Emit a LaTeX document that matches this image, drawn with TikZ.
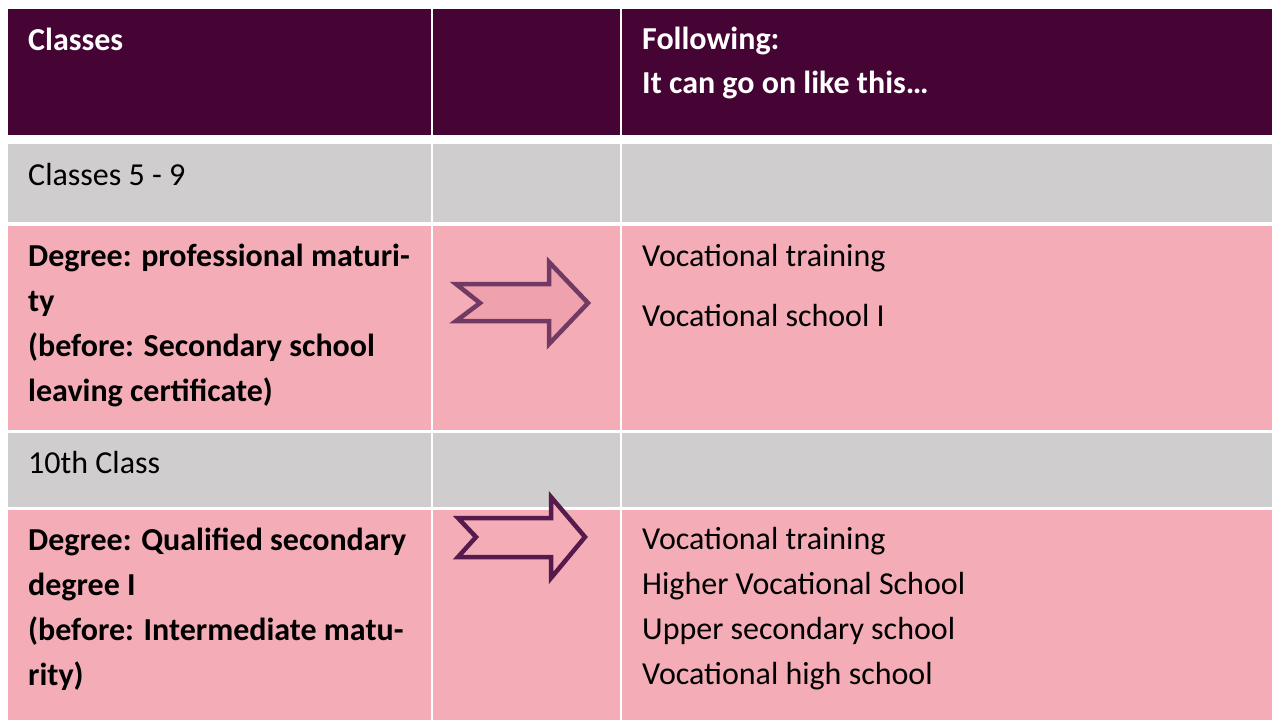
\documentclass[tikz,border=0pt]{standalone}
\usepackage{fontspec}
\setmainfont{Carlito}
\usetikzlibrary{positioning}

\definecolor{headpurple}{HTML}{450433}
\definecolor{rowgray}{HTML}{CFCDCE}
\definecolor{rowpink}{HTML}{F4ACB7}
\definecolor{arrowfill}{HTML}{F0A1AE}
\definecolor{arrowlight}{HTML}{713A62}
\definecolor{arrowdark}{HTML}{561A4C}

\begin{document}
\begin{tikzpicture}[x=1pt,y=-1pt,
  cellstyle/.style={rectangle,anchor=north west,inner sep=0pt,outer sep=0pt},
  headcell/.style={cellstyle,fill=headpurple},
  graycell/.style={cellstyle,fill=rowgray},
  pinkcell/.style={cellstyle,fill=rowpink},
  celltext/.style={anchor=base west,inner sep=0pt,align=left,font=\fontsize{32}{45}\selectfont},
  boldtext/.style={celltext,font=\fontsize{32}{45}\selectfont\bfseries},
  headtext/.style={celltext,text=white,font=\fontsize{32}{44}\selectfont\bfseries},
  blockarrow/.style={line width=4.5pt,line join=miter}
]
\useasboundingbox (0,0) rectangle (1272,720);

% header row
\node [headcell,minimum width=423pt,minimum height=126pt] (head a) at (8,9) { } ;
\node [headcell,minimum width=187pt,minimum height=126pt] (head b) at (433,9) { } ;
\node [headcell,minimum width=650pt,minimum height=126pt] (head c) at (622,9) { } ;

% classes 5 - 9
\node [graycell,minimum width=423pt,minimum height=78pt] (lower a) at (8,144) { } ;
\node [graycell,minimum width=187pt,minimum height=78pt] (lower b) at (433,144) { } ;
\node [graycell,minimum width=650pt,minimum height=78pt] (lower c) at (622,144) { } ;

\node [pinkcell,minimum width=423pt,minimum height=204pt] (maturity a) at (8,226) { } ;
\node [pinkcell,minimum width=187pt,minimum height=204pt] (maturity b) at (433,226) { } ;
\node [pinkcell,minimum width=650pt,minimum height=204pt] (maturity c) at (622,226) { } ;

% 10th class
\node [graycell,minimum width=423pt,minimum height=74pt] (tenth a) at (8,433) { } ;
\node [graycell,minimum width=187pt,minimum height=74pt] (tenth b) at (433,433) { } ;
\node [graycell,minimum width=650pt,minimum height=74pt] (tenth c) at (622,433) { } ;

\node [pinkcell,minimum width=423pt,minimum height=210pt] (secondary a) at (8,510) { } ;
\node [pinkcell,minimum width=187pt,minimum height=210pt] (secondary b) at (433,510) { } ;
\node [pinkcell,minimum width=650pt,minimum height=210pt] (secondary c) at (622,510) { } ;

% texts (base anchor sits on the last line)
\node [headtext] (classes label) at (28,50) {Classes} ;
\node [headtext] (following label) at (642,93) {Following:\\It can go on like this…} ;

\node [celltext] (lower label) at (28,185) {Classes 5 - 9} ;
\node [boldtext] (maturity label) at (28,401)
  {Degree: professional maturi-\\ty\\(before: Secondary school\\leaving certificate)} ;
\node [celltext] (maturity next) at (642,326) {Vocational training\\[15pt]Vocational school I} ;

\node [celltext] (tenth label) at (28,473) {10th Class} ;
\node [boldtext] (secondary label) at (28,685)
  {Degree: Qualified secondary\\degree I\\(before: Intermediate matu-\\rity)} ;
\node [celltext] (secondary next) at (642,684)
  {Vocational training\\Higher Vocational School\\Upper secondary school\\Vocational high school} ;

% arrows
\draw [blockarrow,draw=arrowlight,fill=arrowfill] (456,284) -- (480,303) -- (456,321) -- (549,321)
  -- (549,344) -- (588,303) -- (549,262) -- (549,284) -- cycle ;
\draw [blockarrow,draw=arrowdark,fill=rowpink] (458,518) -- (476,537) -- (458,557) -- (551,557)
  -- (551,578) -- (585,537) -- (551,497) -- (551,518) -- cycle ;

\end{tikzpicture}
\end{document}
